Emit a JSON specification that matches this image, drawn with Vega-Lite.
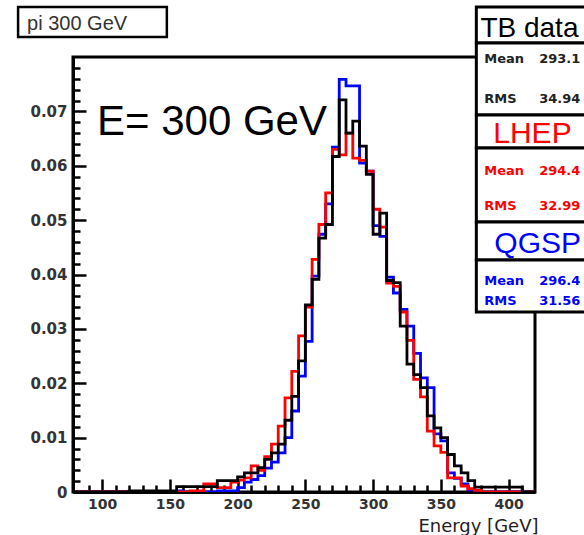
{
  "$schema": "https://vega.github.io/schema/vega-lite/v6.json",
  "width": 462,
  "height": 435,
  "autosize": {"type": "none"},
  "padding": {"left": 73, "top": 57, "right": 49, "bottom": 43},
  "background": "white",
  "view": {"stroke": "black", "strokeWidth": 3},
  "config": {
    "axis": {"domainColor": "black", "domainWidth": 3, "tickColor": "black", "tickWidth": 2.5, "grid": false,
      "labelFont": "DejaVu Sans", "labelFontWeight": "bold", "labelFontSize": 15, "labelColor": "#333"},
    "text": {"font": "Liberation Sans"}
  },
  "resolve": {"axis": {"x": "independent", "y": "independent"}},
  "datasets": {
    "one": [{}],
    "h": [
      {"e": 80, "tb": 0, "lhep": 0, "qgsp": 0},
      {"e": 85, "tb": 0, "lhep": 0, "qgsp": 0},
      {"e": 90, "tb": 0, "lhep": 0, "qgsp": 0},
      {"e": 95, "tb": 0, "lhep": 0, "qgsp": 0},
      {"e": 100, "tb": 0, "lhep": 0, "qgsp": 0},
      {"e": 105, "tb": 0, "lhep": 0, "qgsp": 0},
      {"e": 110, "tb": 0, "lhep": 0, "qgsp": 0},
      {"e": 115, "tb": 0, "lhep": 0, "qgsp": 0},
      {"e": 120, "tb": 0.0002, "lhep": 0, "qgsp": 0},
      {"e": 125, "tb": 0.0002, "lhep": 0, "qgsp": 0},
      {"e": 130, "tb": 0.0002, "lhep": 0, "qgsp": 0},
      {"e": 135, "tb": 0.0002, "lhep": 0, "qgsp": 0},
      {"e": 140, "tb": 0.0002, "lhep": 0, "qgsp": 0},
      {"e": 145, "tb": 0.0002, "lhep": 0, "qgsp": 0},
      {"e": 150, "tb": 0.0002, "lhep": 0, "qgsp": 0},
      {"e": 155, "tb": 0.001, "lhep": 0, "qgsp": 0.0002},
      {"e": 160, "tb": 0.001, "lhep": 0, "qgsp": 0},
      {"e": 165, "tb": 0.001, "lhep": 0.0002, "qgsp": 0},
      {"e": 170, "tb": 0.001, "lhep": 0.0002, "qgsp": 0},
      {"e": 175, "tb": 0.001, "lhep": 0.0015, "qgsp": 0},
      {"e": 180, "tb": 0.001, "lhep": 0.0015, "qgsp": 0},
      {"e": 185, "tb": 0.0021, "lhep": 0.0008, "qgsp": 0.0002},
      {"e": 190, "tb": 0.0021, "lhep": 0.0008, "qgsp": 0.0002},
      {"e": 195, "tb": 0.0021, "lhep": 0.0018, "qgsp": 0.0002},
      {"e": 200, "tb": 0.0028, "lhep": 0.0022, "qgsp": 0.0008},
      {"e": 205, "tb": 0.0035, "lhep": 0.0026, "qgsp": 0.0018},
      {"e": 210, "tb": 0.0035, "lhep": 0.0048, "qgsp": 0.0023},
      {"e": 215, "tb": 0.0045, "lhep": 0.004, "qgsp": 0.003},
      {"e": 220, "tb": 0.006, "lhep": 0.0065, "qgsp": 0.0044},
      {"e": 225, "tb": 0.0072, "lhep": 0.0088, "qgsp": 0.0055},
      {"e": 230, "tb": 0.0088, "lhep": 0.0121, "qgsp": 0.0072},
      {"e": 235, "tb": 0.0132, "lhep": 0.0173, "qgsp": 0.01},
      {"e": 240, "tb": 0.0176, "lhep": 0.0222, "qgsp": 0.0149},
      {"e": 245, "tb": 0.0241, "lhep": 0.0287, "qgsp": 0.0213},
      {"e": 250, "tb": 0.0344, "lhep": 0.034, "qgsp": 0.0277},
      {"e": 255, "tb": 0.0391, "lhep": 0.0428, "qgsp": 0.0397},
      {"e": 260, "tb": 0.0467, "lhep": 0.0492, "qgsp": 0.0474},
      {"e": 265, "tb": 0.0492, "lhep": 0.055, "qgsp": 0.053},
      {"e": 270, "tb": 0.0617, "lhep": 0.063, "qgsp": 0.0634},
      {"e": 275, "tb": 0.0721, "lhep": 0.062, "qgsp": 0.0759},
      {"e": 280, "tb": 0.066, "lhep": 0.066, "qgsp": 0.0747},
      {"e": 285, "tb": 0.0682, "lhep": 0.0614, "qgsp": 0.0747},
      {"e": 290, "tb": 0.0636, "lhep": 0.061, "qgsp": 0.0605},
      {"e": 295, "tb": 0.0584, "lhep": 0.059, "qgsp": 0.059},
      {"e": 300, "tb": 0.0474, "lhep": 0.052, "qgsp": 0.049},
      {"e": 305, "tb": 0.0513, "lhep": 0.0487, "qgsp": 0.047},
      {"e": 310, "tb": 0.0389, "lhep": 0.0384, "qgsp": 0.0395},
      {"e": 315, "tb": 0.0385, "lhep": 0.0378, "qgsp": 0.0366},
      {"e": 320, "tb": 0.0305, "lhep": 0.0331, "qgsp": 0.0336},
      {"e": 325, "tb": 0.0235, "lhep": 0.0279, "qgsp": 0.0305},
      {"e": 330, "tb": 0.0216, "lhep": 0.0207, "qgsp": 0.0255},
      {"e": 335, "tb": 0.0192, "lhep": 0.0175, "qgsp": 0.021},
      {"e": 340, "tb": 0.014, "lhep": 0.0112, "qgsp": 0.0192},
      {"e": 345, "tb": 0.0118, "lhep": 0.0085, "qgsp": 0.0107},
      {"e": 350, "tb": 0.01, "lhep": 0.0073, "qgsp": 0.0094},
      {"e": 355, "tb": 0.0069, "lhep": 0.0026, "qgsp": 0.0035},
      {"e": 360, "tb": 0.0048, "lhep": 0.0026, "qgsp": 0.0025},
      {"e": 365, "tb": 0.0035, "lhep": 0.0011, "qgsp": 0.0015},
      {"e": 370, "tb": 0.0021, "lhep": 0.0006, "qgsp": 0.0004},
      {"e": 375, "tb": 0.0009, "lhep": 0.0003, "qgsp": 0},
      {"e": 380, "tb": 0.0009, "lhep": 0, "qgsp": 0},
      {"e": 385, "tb": 0.0009, "lhep": 0, "qgsp": 0},
      {"e": 390, "tb": 0.0009, "lhep": 0, "qgsp": 0},
      {"e": 395, "tb": 0.0009, "lhep": 0, "qgsp": 0},
      {"e": 400, "tb": 0.0009, "lhep": 0, "qgsp": 0},
      {"e": 405, "tb": 0.0009, "lhep": 0, "qgsp": 0},
      {"e": 410, "tb": 0, "lhep": 0, "qgsp": 0},
      {"e": 415, "tb": 0, "lhep": 0, "qgsp": 0},
      {"e": 420, "tb": 0, "lhep": 0, "qgsp": 0}
    ]
  },
  "layer": [
    {
      "data": {"name": "h"},
      "mark": {"type": "line", "interpolate": "step-after", "color": "#0000ff", "strokeWidth": 2.8, "clip": true},
      "encoding": {
        "x": {"field": "e", "type": "quantitative",
          "scale": {"domain": [78.5, 419.5], "nice": false, "zero": false},
          "axis": {"orient": "bottom", "title": "Energy [GeV]",
            "values": [100,150,200,250,300,350,400],
            "tickSize": -13, "labelPadding": 18, "labelFontSize": 14, "labelOverlap": false, "labelFlush": false,
            "titleFont": "DejaVu Sans", "titleFontSize": 18, "titleFontWeight": "normal", "titleColor": "#222",
            "titleAnchor": "end", "titleAlign": "right", "titleBaseline": "alphabetic", "titleX": 465, "titleY": 39.5}},
        "y": {"field": "qgsp", "type": "quantitative",
          "scale": {"domain": [0, 0.08], "nice": false},
          "axis": {"orient": "left", "title": null,
            "values": [0,0.01,0.02,0.03,0.04,0.05,0.06,0.07],
            "format": ".2~f",
            "tickSize": -13, "labelPadding": 19, "labelOverlap": false, "labelFlush": false}}
      }
    },
    {
      "data": {"name": "h"},
      "mark": {"type": "line", "interpolate": "step-after", "color": "#ff0000", "strokeWidth": 2.8, "clip": true},
      "encoding": {
        "x": {"field": "e", "type": "quantitative",
          "axis": {"orient": "bottom", "title": null, "labels": false, "domain": false, "tickSize": -7,
            "values": [90,110,120,130,140,160,170,180,190,210,220,230,240,260,270,280,290,310,320,330,340,360,370,380,390,410]}},
        "y": {"field": "lhep", "type": "quantitative",
          "axis": {"orient": "left", "title": null, "labels": false, "domain": false, "tickSize": -7,
            "values": [0.002,0.004,0.006,0.008,0.012,0.014,0.016,0.018,0.022,0.024,0.026,0.028,0.032,0.034,0.036,0.038,0.042,0.044,0.046,0.048,0.052,0.054,0.056,0.058,0.062,0.064,0.066,0.068,0.072,0.074,0.076,0.078]}}
      }
    },
    {
      "data": {"name": "h"},
      "mark": {"type": "line", "interpolate": "step-after", "color": "#000000", "strokeWidth": 2.8, "clip": true},
      "encoding": {"x": {"field": "e", "type": "quantitative", "axis": null}, "y": {"field": "tb", "type": "quantitative", "axis": null}}
    },
    {"data": {"name": "one"}, "mark": {"type": "text", "text": "E= 300 GeV", "font": "Liberation Sans", "fontSize": 42, "color": "black", "align": "left", "baseline": "alphabetic", "clip": false},
      "encoding": {"x": {"datum": 96.2, "axis": null}, "y": {"datum": 0.06566, "axis": null}}},
    {"data": {"name": "one"}, "mark": {"type": "rect", "clip": false, "fill": "white", "stroke": "black", "strokeWidth": 2.5},
      "encoding": {"x": {"datum": 37.97, "axis": null}, "x2": {"datum": 147.77}, "y": {"datum": 0.0892, "axis": null}, "y2": {"datum": 0.08368}}},
    {"data": {"name": "one"}, "mark": {"type": "text", "text": "pi 300 GeV", "font": "Liberation Sans", "fontSize": 20, "color": "#333", "align": "left", "baseline": "alphabetic", "clip": false},
      "encoding": {"x": {"datum": 44.6, "axis": null}, "y": {"datum": 0.08497, "axis": null}}},
    {"data": {"name": "one"}, "mark": {"type": "rect", "clip": false, "fill": "white", "stroke": "black", "strokeWidth": 3},
      "encoding": {"x": {"datum": 376.2, "axis": null}, "x2": {"datum": 470}, "y": {"datum": 0.0892, "axis": null}, "y2": {"datum": 0.08257}}},
    {"data": {"name": "one"}, "mark": {"type": "rect", "clip": false, "fill": "white", "stroke": "black", "strokeWidth": 3},
      "encoding": {"x": {"datum": 376.2, "axis": null}, "x2": {"datum": 470}, "y": {"datum": 0.08257, "axis": null}, "y2": {"datum": 0.06933}}},
    {"data": {"name": "one"}, "mark": {"type": "rect", "clip": false, "fill": "white", "stroke": "black", "strokeWidth": 3},
      "encoding": {"x": {"datum": 376.2, "axis": null}, "x2": {"datum": 470}, "y": {"datum": 0.06933, "axis": null}, "y2": {"datum": 0.06326}}},
    {"data": {"name": "one"}, "mark": {"type": "rect", "clip": false, "fill": "white", "stroke": "black", "strokeWidth": 3},
      "encoding": {"x": {"datum": 376.2, "axis": null}, "x2": {"datum": 470}, "y": {"datum": 0.06326, "axis": null}, "y2": {"datum": 0.04966}}},
    {"data": {"name": "one"}, "mark": {"type": "rect", "clip": false, "fill": "white", "stroke": "black", "strokeWidth": 3},
      "encoding": {"x": {"datum": 376.2, "axis": null}, "x2": {"datum": 470}, "y": {"datum": 0.04966, "axis": null}, "y2": {"datum": 0.04267}}},
    {"data": {"name": "one"}, "mark": {"type": "rect", "clip": false, "fill": "white", "stroke": "black", "strokeWidth": 3},
      "encoding": {"x": {"datum": 376.2, "axis": null}, "x2": {"datum": 470}, "y": {"datum": 0.04267, "axis": null}, "y2": {"datum": 0.0331}}},
    {"data": {"name": "one"}, "mark": {"type": "text", "text": "TB data", "fontSize": 28, "color": "black", "align": "left", "baseline": "alphabetic", "clip": false},
      "encoding": {"x": {"datum": 379.2, "axis": null}, "y": {"datum": 0.08368, "axis": null}}},
    {"data": {"name": "one"}, "mark": {"type": "text", "text": "Mean", "font": "DejaVu Sans", "fontWeight": "bold", "fontSize": 13, "color": "#222", "align": "left", "baseline": "alphabetic", "clip": false},
      "encoding": {"x": {"datum": 382.1, "axis": null}, "y": {"datum": 0.0789, "axis": null}}},
    {"data": {"name": "one"}, "mark": {"type": "text", "text": "293.1", "font": "DejaVu Sans", "fontWeight": "bold", "fontSize": 13, "color": "#222", "align": "left", "baseline": "alphabetic", "clip": false},
      "encoding": {"x": {"datum": 422.6, "axis": null}, "y": {"datum": 0.0789, "axis": null}}},
    {"data": {"name": "one"}, "mark": {"type": "text", "text": "RMS", "font": "DejaVu Sans", "fontWeight": "bold", "fontSize": 13, "color": "#222", "align": "left", "baseline": "alphabetic", "clip": false},
      "encoding": {"x": {"datum": 382.1, "axis": null}, "y": {"datum": 0.07154, "axis": null}}},
    {"data": {"name": "one"}, "mark": {"type": "text", "text": "34.94", "font": "DejaVu Sans", "fontWeight": "bold", "fontSize": 13, "color": "#222", "align": "left", "baseline": "alphabetic", "clip": false},
      "encoding": {"x": {"datum": 422.6, "axis": null}, "y": {"datum": 0.07154, "axis": null}}},
    {"data": {"name": "one"}, "mark": {"type": "text", "text": "LHEP", "fontSize": 30, "color": "#ff0000", "align": "left", "baseline": "alphabetic", "clip": false},
      "encoding": {"x": {"datum": 388.7, "axis": null}, "y": {"datum": 0.06418, "axis": null}}},
    {"data": {"name": "one"}, "mark": {"type": "text", "text": "Mean", "font": "DejaVu Sans", "fontWeight": "bold", "fontSize": 13, "color": "#ff0000", "align": "left", "baseline": "alphabetic", "clip": false},
      "encoding": {"x": {"datum": 382.1, "axis": null}, "y": {"datum": 0.0583, "axis": null}}},
    {"data": {"name": "one"}, "mark": {"type": "text", "text": "294.4", "font": "DejaVu Sans", "fontWeight": "bold", "fontSize": 13, "color": "#ff0000", "align": "left", "baseline": "alphabetic", "clip": false},
      "encoding": {"x": {"datum": 422.6, "axis": null}, "y": {"datum": 0.0583, "axis": null}}},
    {"data": {"name": "one"}, "mark": {"type": "text", "text": "RMS", "font": "DejaVu Sans", "fontWeight": "bold", "fontSize": 13, "color": "#ff0000", "align": "left", "baseline": "alphabetic", "clip": false},
      "encoding": {"x": {"datum": 382.1, "axis": null}, "y": {"datum": 0.05186, "axis": null}}},
    {"data": {"name": "one"}, "mark": {"type": "text", "text": "32.99", "font": "DejaVu Sans", "fontWeight": "bold", "fontSize": 13, "color": "#ff0000", "align": "left", "baseline": "alphabetic", "clip": false},
      "encoding": {"x": {"datum": 422.6, "axis": null}, "y": {"datum": 0.05186, "axis": null}}},
    {"data": {"name": "one"}, "mark": {"type": "text", "text": "QGSP", "fontSize": 30, "color": "#0000ff", "align": "left", "baseline": "alphabetic", "clip": false},
      "encoding": {"x": {"datum": 389.5, "axis": null}, "y": {"datum": 0.04395, "axis": null}}},
    {"data": {"name": "one"}, "mark": {"type": "text", "text": "Mean", "font": "DejaVu Sans", "fontWeight": "bold", "fontSize": 13, "color": "#0000ff", "align": "left", "baseline": "alphabetic", "clip": false},
      "encoding": {"x": {"datum": 382.1, "axis": null}, "y": {"datum": 0.03807, "axis": null}}},
    {"data": {"name": "one"}, "mark": {"type": "text", "text": "296.4", "font": "DejaVu Sans", "fontWeight": "bold", "fontSize": 13, "color": "#0000ff", "align": "left", "baseline": "alphabetic", "clip": false},
      "encoding": {"x": {"datum": 422.6, "axis": null}, "y": {"datum": 0.03807, "axis": null}}},
    {"data": {"name": "one"}, "mark": {"type": "text", "text": "RMS", "font": "DejaVu Sans", "fontWeight": "bold", "fontSize": 13, "color": "#0000ff", "align": "left", "baseline": "alphabetic", "clip": false},
      "encoding": {"x": {"datum": 382.1, "axis": null}, "y": {"datum": 0.03439, "axis": null}}},
    {"data": {"name": "one"}, "mark": {"type": "text", "text": "31.56", "font": "DejaVu Sans", "fontWeight": "bold", "fontSize": 13, "color": "#0000ff", "align": "left", "baseline": "alphabetic", "clip": false},
      "encoding": {"x": {"datum": 422.6, "axis": null}, "y": {"datum": 0.03439, "axis": null}}}
  ]
}
